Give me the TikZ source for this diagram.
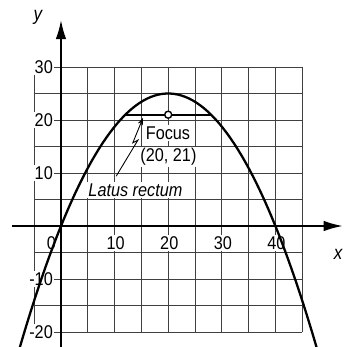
\documentclass[tikz,border=0pt]{standalone}
\usepackage{fontspec}
\setmainfont{Liberation Sans}[FakeStretch=0.88]
\usepackage{tikz}
\usetikzlibrary{arrows.meta, positioning}
\tikzstyle{gridline} = [black!75, line width=0.4pt]
\tikzstyle{axis} = [line width=1.1pt, -{Latex[length=11pt,width=6pt]}]
\tikzstyle{curve} = [line width=1.3pt]
\tikzstyle{ticklabel} = [fill=white, inner sep=0.8pt, font=\fontsize{10.5}{11}\selectfont]
\tikzstyle{textlabel} = [fill=white, inner sep=0.8pt, font=\fontsize{10.5}{11}\selectfont]
\tikzstyle{pointer} = [line width=0.5pt, -{Stealth[length=4pt,width=3pt]}]

\begin{document}
\begin{tikzpicture}[x=1.072mm, y=1.06mm]
    \useasboundingbox (-11.38,-22.83) rectangle (52.8,42.64);

    % Grid
    \draw[gridline] (-5,-20) grid[step=5] (45,30);

    % Tick labels
    \foreach \v in {30,20,10}
        \node[ticklabel, anchor=east] (yl\v) at (-1.2,\v) {\v};
    \node[ticklabel, anchor=east] (ylm10) at (-1.2,-10) {-10};
    \node[ticklabel, anchor=east] (ylm20) at (-1.2,-20) {-20};
    \node[ticklabel] (xl0) at (-1.8,-3.2) {0};
    \foreach \v in {10,20,30,40}
        \node[ticklabel] (xl\v) at (\v+0.2,-3.2) {\v};

    % Axes
    \coordinate (xstart) at (-9.1,0);
    \coordinate (xend) at (52.6,0);
    \coordinate (ystart) at (0,-23.5);
    \coordinate (yend) at (0,38.9);
    \draw[axis] (xstart) -- (xend);
    \draw[axis] (ystart) -- (yend);
    \node[textlabel, fill=none, font=\fontsize{11}{12}\selectfont\itshape] (ylab) at (-4.3,39.4) {y};
    \node[textlabel, fill=none, anchor=east, font=\fontsize{11}{12}\selectfont\itshape] (xlab) at (52.8,-5.3) {x};

    % Labels
    \node[textlabel, anchor=west] (focuslbl) at (15.5,17.5) {Focus};
    \node[textlabel, anchor=west] (focuscoord) at (14.5,13.0) {(20, 21)};
    \node[textlabel, anchor=west, font=\fontsize{10.5}{11}\selectfont\itshape] (latus) at (4.8,6.8) {Latus rectum};

    % Latus rectum and focus
    \coordinate (lr1) at (12,21);
    \coordinate (lr2) at (28,21);
    \draw[curve] (lr1) -- (lr2);
    \node[circle, draw, line width=0.8pt, fill=white, inner sep=0pt, minimum size=4pt] (focus) at (20,21) {};

    % Pointer to latus rectum
    \coordinate (pstart) at (10.3,9.4);
    \coordinate (pbend1) at (14.35,16.2);
    \coordinate (pbend2) at (13.4,15.7);
    \coordinate (ptip) at (15.3,20.4);
    \draw[pointer] (pstart) -- (pbend1) -- (pbend2) -- (ptip);

    % Parabola
    \draw[curve, domain=-7.8:47.8, samples=80] plot (\x, {25-(\x-20)^2/16});

\end{tikzpicture}
\end{document}
